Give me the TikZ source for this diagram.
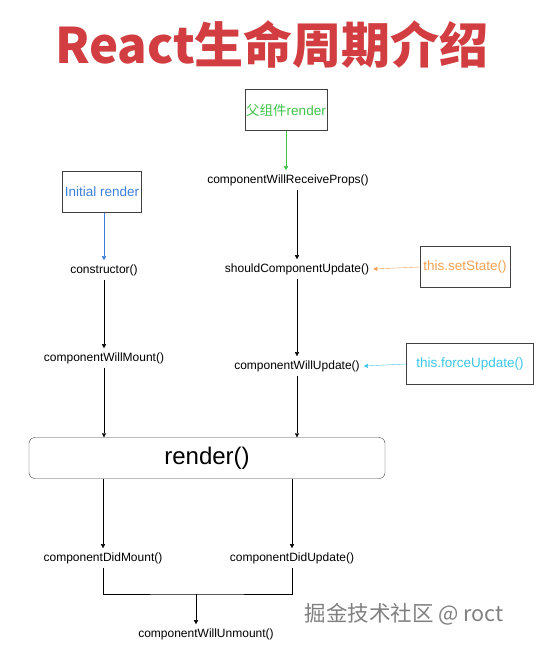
\documentclass[tikz,border=0pt]{standalone}
\usepackage{fontspec}
\setmainfont{Liberation Sans}
\newfontfamily\cjk{Noto Sans CJK SC}
\usepackage{xcolor}
\usepackage{tikz}
\usetikzlibrary{positioning, arrows.meta}
\definecolor{titlered}{HTML}{D13D40}
\definecolor{propsgreen}{HTML}{3FC24A}
\definecolor{initblue}{HTML}{3C7FD8}
\definecolor{stateorange}{HTML}{F2A052}
\definecolor{forcecyan}{HTML}{3CC6EA}

\begin{document}
\begin{tikzpicture}[x=1pt, y=-1pt, >={Triangle[length=4pt, width=4pt]},
  lbl/.style={inner sep=4pt, font=\fontsize{12}{14}\selectfont},
  srcbox/.style={rectangle, draw=black!75, minimum width=79pt, minimum height=41pt, inner sep=1pt, font=\fontsize{13.5}{16}\selectfont}]
\useasboundingbox (0,0) rectangle (544,647);

\node (title) at (272,45) [text=titlered, font=\cjk\bfseries\fontsize{49}{52}\selectfont] {React生命周期介绍};

% sources
\node (parent) at (286,110) [srcbox, text=propsgreen] {{\cjk 父组件}render};
\node (initial) at (102,192) [srcbox, text=initblue] {Initial render};
\node (setstate) at (465,267) [srcbox, minimum width=90pt, text=stateorange] {this.setState()};
\node (force) at (470,364) [srcbox, minimum width=127pt, text=forcecyan] {this.forceUpdate()};

% lifecycle methods
\node (receive) at (288,180) [lbl] {componentWillReceiveProps()};
\node (ctor) at (104,270) [lbl] {constructor()};
\node (willmount) at (104,358) [lbl] {componentWillMount()};
\node (should) at (297,269) [lbl] {shouldComponentUpdate()};
\node (willupdate) at (297,366) [lbl] {componentWillUpdate()};
\node (render) at (207,458) [rectangle, rounded corners=6pt, draw=black!75, minimum width=356pt, minimum height=41pt, font=\fontsize{24}{28}\selectfont] {render()};
\node (didmount) at (103,558) [lbl] {componentDidMount()};
\node (didupdate) at (292,558) [lbl] {componentDidUpdate()};
\node (unmount) at (206,634) [lbl] {componentWillUnmount()};
\coordinate (join) at (196,594);

\node (mark) at (404,614) [text=black!50, font=\cjk\fontsize{21.5}{24}\selectfont] {掘金技术社区 @ roct};

\draw[->, propsgreen] (parent.south) -- (parent.south |- receive.north);
\draw[->, initblue] (initial.south -| ctor) -- (ctor);
\draw[->] (ctor) -- (willmount);
\draw[->] (willmount) -- (willmount |- render.north);
\draw[->] (receive.south -| should) -- (should);
\draw[->] (should) -- (willupdate);
\draw[->] (willupdate) -- (willupdate |- render.north);
\draw[->, stateorange] (setstate.west) -- (should.east);
\draw[->, forcecyan] (force.west) -- (willupdate.east);
\draw[->] (render.south -| didmount) -- (didmount);
\draw[->] (render.south -| didupdate) -- (didupdate);
\draw (didmount.south) |- (join) -| (didupdate.south);
\draw[->] (join) -- (join |- unmount.north);
\end{tikzpicture}
\end{document}
